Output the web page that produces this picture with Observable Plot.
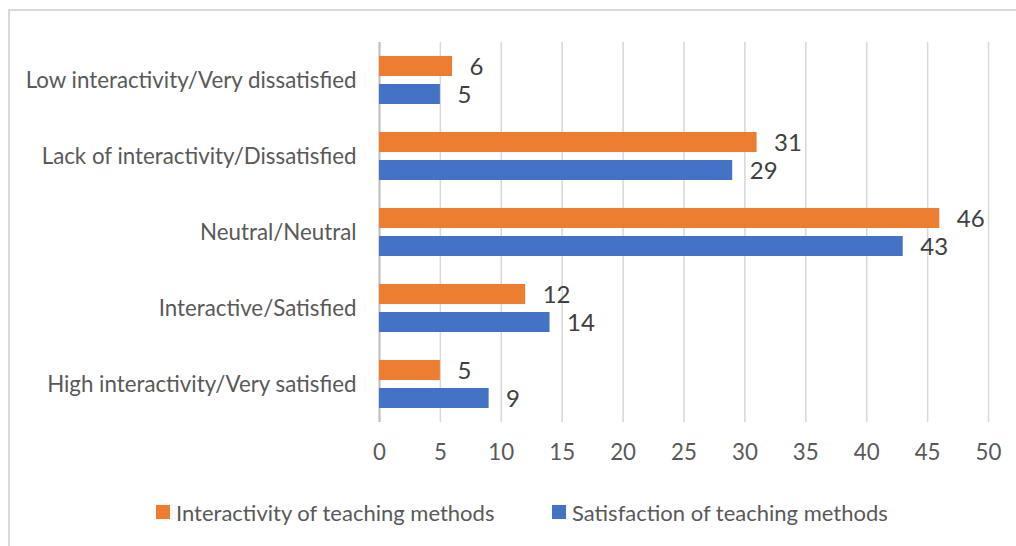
<!DOCTYPE html>
<html>
<head>
<meta charset="utf-8">
<script src="https://cdn.jsdelivr.net/npm/d3@7"></script>
<script src="https://cdn.jsdelivr.net/npm/@observablehq/plot@0.6"></script>
<style>
  html, body { margin: 0; padding: 0; background: #fff; }
  #wrap { position: relative; width: 1016px; height: 546px; overflow: hidden; font-family: Lato, "Open Sans", sans-serif; }
  #frame { position: absolute; left: 8px; top: 9px; width: 1100px; height: 600px; border: 2px solid #d9d9d9; box-sizing: border-box; }
  #chart { position: absolute; left: 0; top: 0; }
  #legend { position: absolute; top: 499px; left: 0; width: 1016px; height: 26px; }
  .item { position: absolute; top: 0; display: flex; align-items: center; font-size: 22px; color: #595959; white-space: nowrap; height: 26px; }
  .sw { width: 14px; height: 14px; margin-right: 6px; }
</style>
</head>
<body>
<div id="wrap">
  <div id="frame"></div>
  <div id="chart"></div>
  <div id="legend"></div>
</div>
<script>
const categories = [
  "Low interactivity/Very dissatisfied",
  "Lack of interactivity/Dissatisfied",
  "Neutral/Neutral",
  "Interactive/Satisfied",
  "High interactivity/Very satisfied"
];
const seriesNames = ["Interactivity of teaching methods", "Satisfaction of teaching methods"];
const interactivity = [6, 31, 46, 12, 5];
const satisfaction = [5, 29, 43, 14, 9];
const xTicks = [0, 5, 10, 15, 20, 25, 30, 35, 40, 45, 50];
const colors = ["#ED7D31", "#4472C4"];

const rows = [];
categories.forEach((c, i) => {
  rows.push({category: c, series: seriesNames[0], value: interactivity[i]});
  rows.push({category: c, series: seriesNames[1], value: satisfaction[i]});
});

const chart = Plot.plot({
  width: 1016,
  height: 546,
  marginTop: 40,
  marginBottom: 123,
  marginLeft: 379,
  marginRight: 28,
  style: {fontSize: "22.3px", fontFamily: "Lato, 'Open Sans', sans-serif", color: "#595959", background: "transparent"},
  facet: {data: rows, y: "category"},
  fy: {domain: categories, padding: 0, label: null, tickSize: 0, tickPadding: 23},
  y: {domain: seriesNames, axis: null, paddingInner: 0.28, paddingOuter: 0.484},
  x: {domain: [0, 50], ticks: xTicks, tickSize: 0, tickPadding: 22, label: null, grid: true},
  color: {domain: seriesNames, range: colors},
  marks: [
    Plot.ruleX(xTicks, {stroke: "#d9d9d9", strokeWidth: 1.5, strokeOpacity: 1}),
    Plot.ruleX([0], {stroke: "#bfbfbf", strokeWidth: 2}),
    Plot.barX(rows, {x: "value", y: "series", fill: "series"}),
    Plot.text(rows, {x: "value", y: "series", text: d => String(d.value), textAnchor: "start", dx: 17, dy: 1, fill: "#404040", fontSize: 24})
  ]
});
document.getElementById("chart").appendChild(chart);

const legend = document.getElementById("legend");
const lefts = [156, 552];
seriesNames.forEach((s, i) => {
  const it = document.createElement("div");
  it.className = "item";
  it.style.left = lefts[i] + "px";
  const sw = document.createElement("div");
  sw.className = "sw";
  sw.style.background = colors[i];
  it.appendChild(sw);
  const t = document.createElement("span");
  t.textContent = s;
  it.appendChild(t);
  legend.appendChild(it);
});
</script>
</body>
</html>
